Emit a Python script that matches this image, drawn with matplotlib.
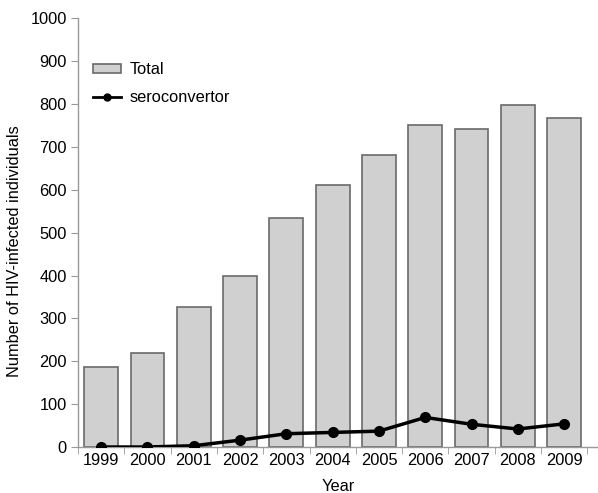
import matplotlib
matplotlib.use("Agg")
import matplotlib.pyplot as plt
from matplotlib.patches import Patch
from matplotlib.lines import Line2D
import numpy as np

plt.rcParams['font.family'] = ['Liberation Sans', 'DejaVu Sans']

years = ['1999', '2000', '2001', '2002', '2003', '2004', '2005', '2006', '2007', '2008', '2009']
total = [186, 220, 327, 398, 535, 611, 681, 750, 742, 797, 768]
seroconvertor = [0, 0, 3, 16, 31, 34, 37, 69, 53, 42, 54]

FS = 11.8
fig = plt.figure(figsize=(5.98, 4.93), dpi=100)
ax = fig.add_axes([0.1304, 0.0933, 0.8696, 0.8696])

x = np.arange(len(years))
ax.bar(x, total, width=0.73, color='#d0d0d0', edgecolor='#6a6a6a', linewidth=1.2, zorder=2)
ax.plot(x, seroconvertor, color='black', linewidth=2.5, marker='o', markersize=7, zorder=3)

ax.set_xlim(-0.47, 10.73)
ax.set_ylim(0, 1000)
ax.set_yticks(np.arange(0, 1001, 100))
ax.set_xticks(x)
ax.set_xticklabels(years)
ax.set_xticks(np.arange(-0.5, len(years), 1.0), minor=True)
ax.tick_params(axis='x', which='major', length=0, labelsize=FS, pad=4)
ax.tick_params(axis='x', which='minor', length=5, color='#999999', direction='out')
ax.tick_params(axis='y', length=5, color='#999999', labelsize=FS, direction='out', pad=3)

for s in ['top', 'right']:
    ax.spines[s].set_visible(False)
for s in ['left', 'bottom']:
    ax.spines[s].set_color('#999999')
    ax.spines[s].set_linewidth(1.0)

ax.set_ylabel('Number of HIV-infected individuals', fontsize=FS)
ax.yaxis.set_label_coords(-0.108, 0.457)
ax.set_xlabel('Year', fontsize=FS, labelpad=8)

handles = [Patch(facecolor='#d0d0d0', edgecolor='#6a6a6a', linewidth=1.2, label='Total'),
           Line2D([], [], color='black', linewidth=2.0, marker='o', markersize=5, label='seroconvertor')]
ax.legend(handles=handles, loc='upper left', bbox_to_anchor=(0.0, 0.932), frameon=False, fontsize=FS,
          handlelength=1.75, handleheight=0.5, handletextpad=0.5, labelspacing=0.8, borderaxespad=0.5)

fig.savefig('out.png', dpi=100)
